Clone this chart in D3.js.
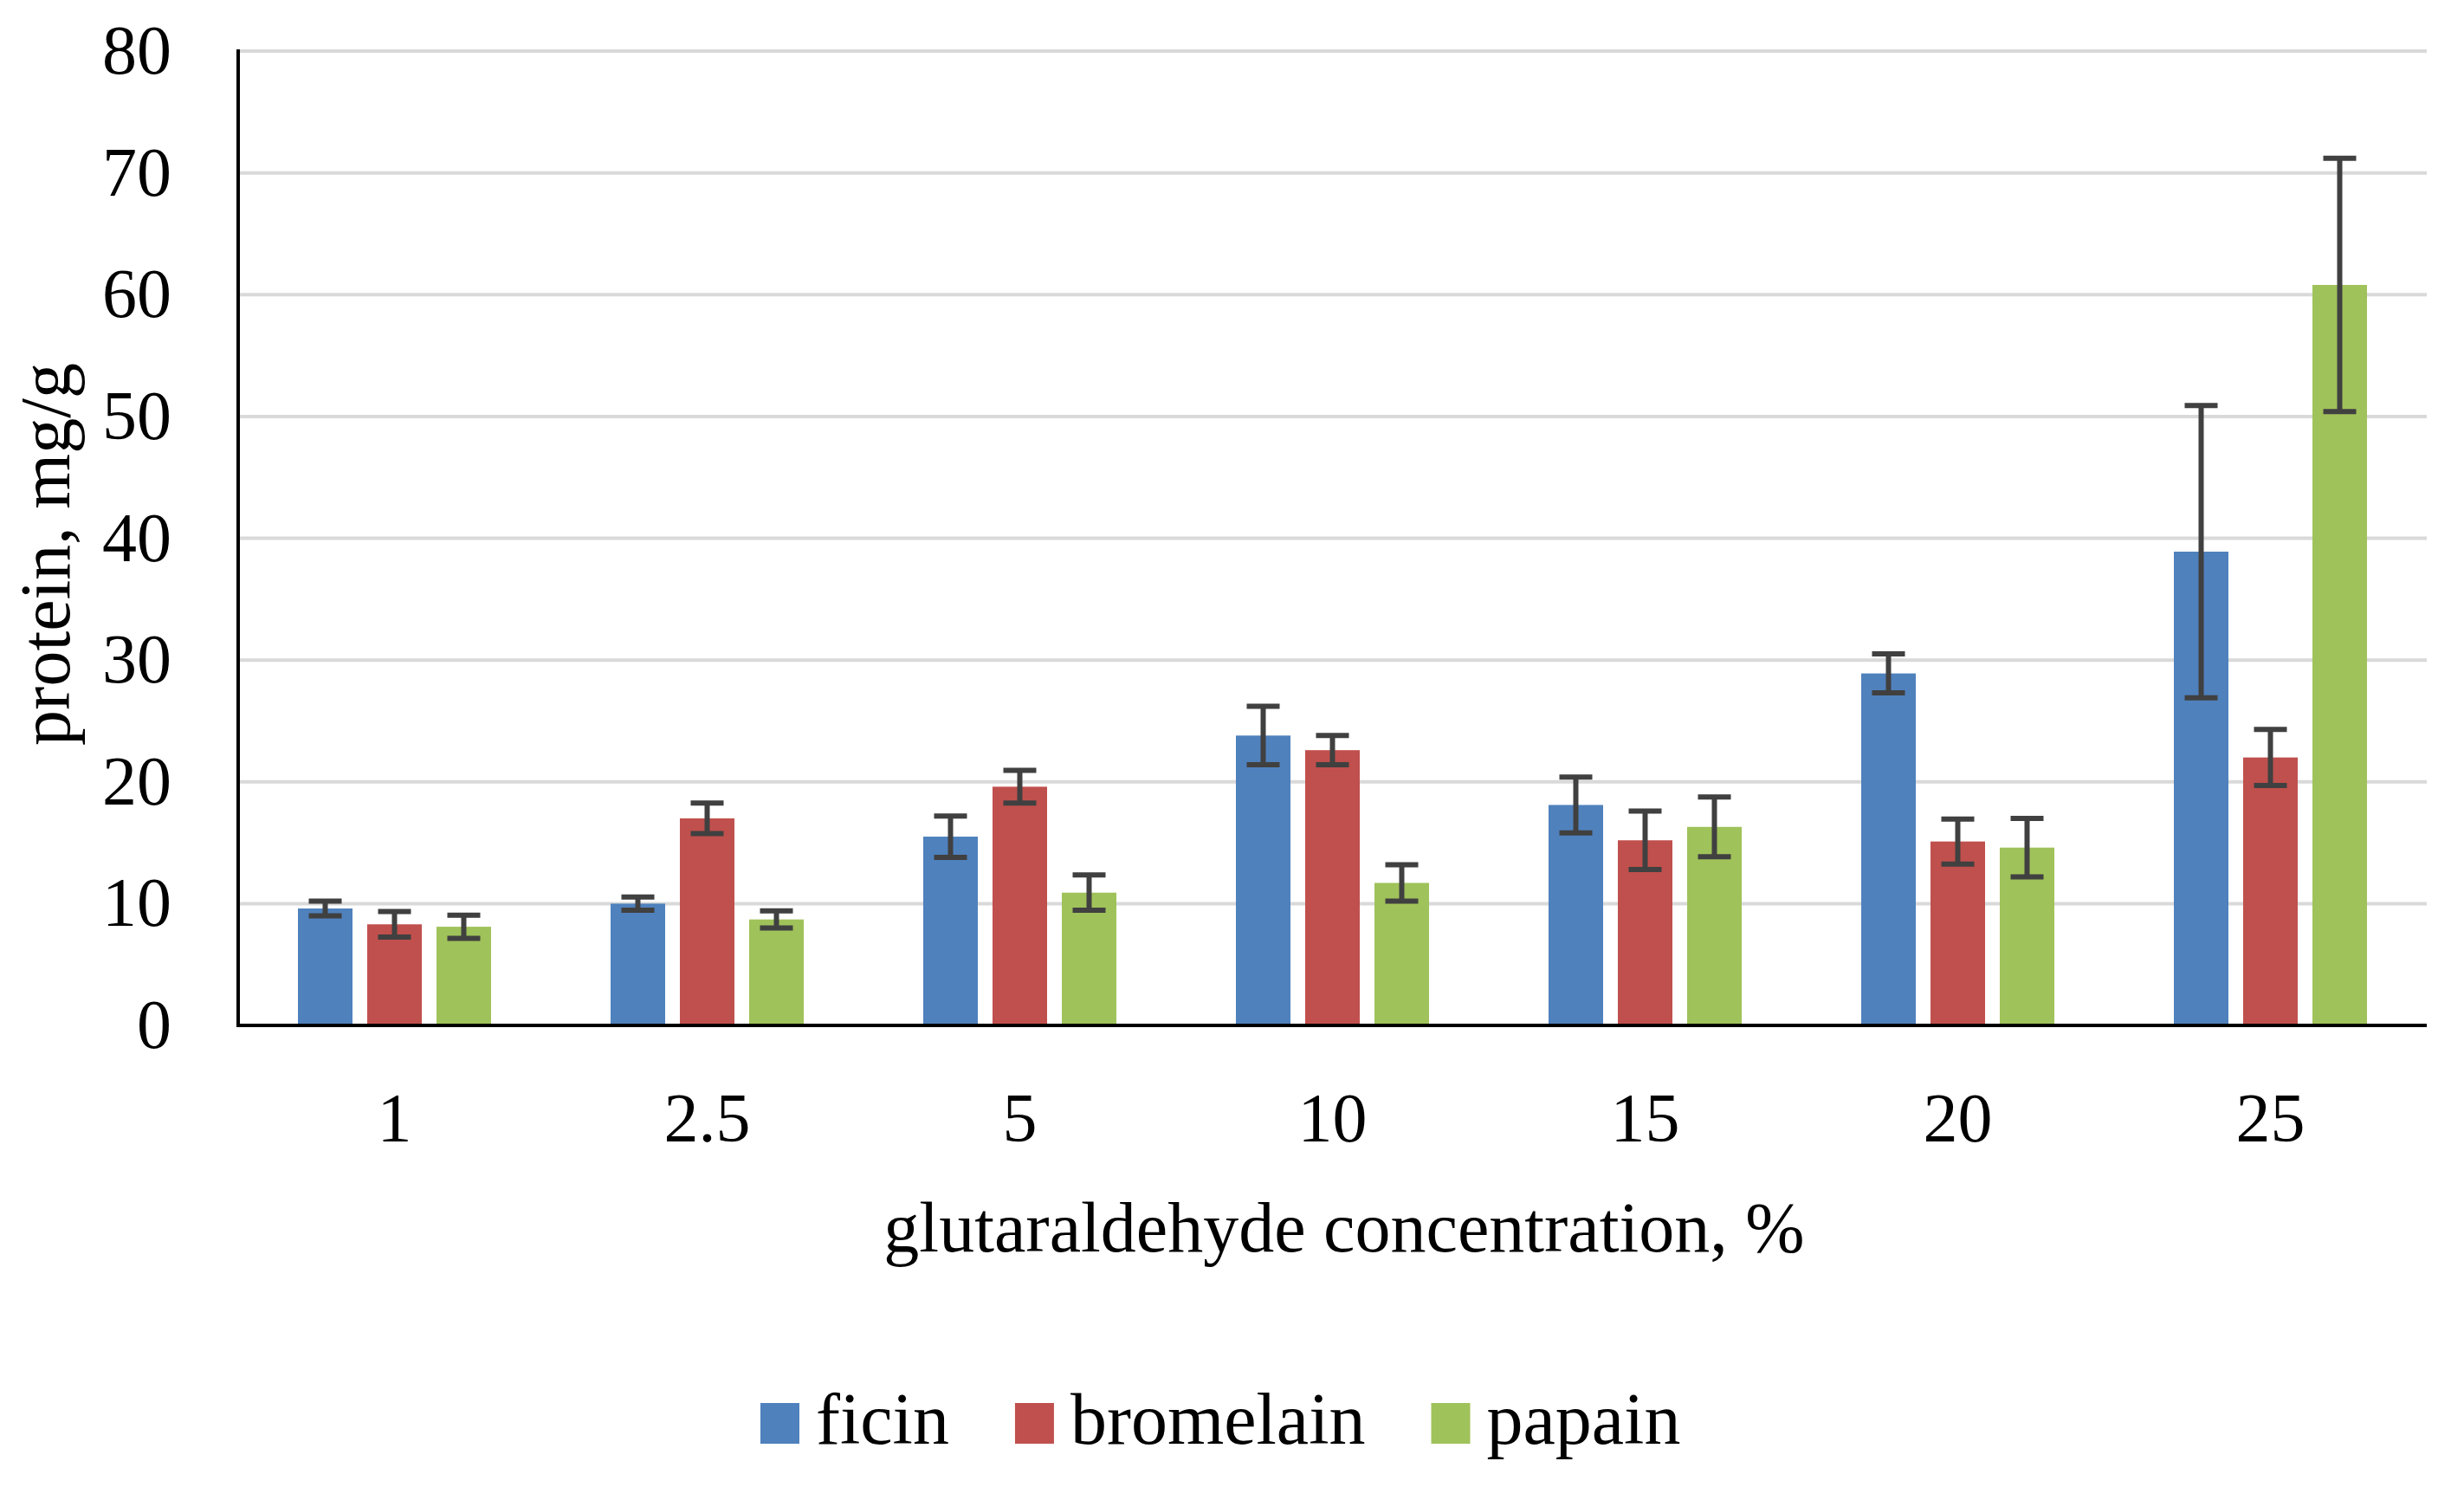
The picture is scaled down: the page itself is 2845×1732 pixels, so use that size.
<!DOCTYPE html>
<html>
<head>
<meta charset="utf-8">
<script src="https://cdn.jsdelivr.net/npm/d3@7"></script>
<style>
  html, body { margin: 0; padding: 0; background: #fff; }
  text { font-family: "Liberation Serif", "Times New Roman", serif; fill: #000; }
</style>
</head>
<body>
<div id="chart"></div>
<script>
// glutaraldehyde concentration categories
const categories = ["1", "2.5", "5", "10", "15", "20", "25"];
const seriesNames = ["ficin", "bromelain", "papain"];
const seriesColors = ["#4F81BD", "#C0504D", "#A0C25A"];

// protein, mg/g
const ficin = [9.6, 10.0, 15.5, 23.8, 18.1, 28.9, 38.9];
const bromelain = [8.3, 17.0, 19.6, 22.6, 15.2, 15.1, 22.0];
const papain = [8.1, 8.7, 10.9, 11.7, 16.3, 14.6, 60.8];

// error bar half widths
const ficinErr = [0.6, 0.55, 1.7, 2.4, 2.3, 1.6, 12.0];
const bromelainErr = [1.05, 1.25, 1.35, 1.2, 2.4, 1.85, 2.3];
const papainErr = [0.95, 0.7, 1.45, 1.5, 2.45, 2.4, 10.4];

const yTicks = [0, 10, 20, 30, 40, 50, 60, 70, 80];

function drawChart() {
    const width = 2845, height = 1732;
    const fontSize = 80;

    const svg = d3.select("#chart")
        .append("svg")
        .attr("width", width)
        .attr("height", height);

    const left = 275, right = 2802, top = 59, bottom = 1184;

    const x = d3.scaleBand()
        .domain(categories)
        .range([left, right]);

    // bars inside a group: step 80, width 63
    const xSub = d3.scaleBand()
        .domain(seriesNames)
        .range([-120, 120])
        .paddingInner(0.2125)
        .paddingOuter(0.10625);

    const y = d3.scaleLinear()
        .domain([0, 80])
        .range([bottom, top]);

    // gridlines
    svg.append("g")
        .selectAll("line")
        .data(yTicks.filter(d => d > 0))
        .enter()
        .append("line")
        .attr("x1", left)
        .attr("x2", right)
        .attr("y1", d => y(d))
        .attr("y2", d => y(d))
        .attr("stroke", "#D9D9D9")
        .attr("stroke-width", 4);

    // rows of bar data
    const values = [ficin, bromelain, papain];
    const errs = [ficinErr, bromelainErr, papainErr];
    const rows = [];
    categories.forEach((c, i) => {
        seriesNames.forEach((s, j) => {
            rows.push({ cat: c, name: s, color: seriesColors[j], v: values[j][i], e: errs[j][i] });
        });
    });

    svg.append("g")
        .selectAll("rect")
        .data(rows)
        .enter()
        .append("rect")
        .attr("x", d => x(d.cat) + x.bandwidth() / 2 + xSub(d.name))
        .attr("width", xSub.bandwidth())
        .attr("y", d => y(d.v))
        .attr("height", d => y(0) - y(d.v))
        .attr("fill", d => d.color);

    // error bars
    const eb = svg.append("g")
        .attr("stroke", "#404040")
        .attr("stroke-width", 6);

    const cx = d => x(d.cat) + x.bandwidth() / 2 + xSub(d.name) + xSub.bandwidth() / 2;
    const capHalf = 19;

    eb.selectAll("line.v")
        .data(rows)
        .enter()
        .append("line")
        .attr("class", "v")
        .attr("x1", cx).attr("x2", cx)
        .attr("y1", d => y(d.v - d.e))
        .attr("y2", d => y(d.v + d.e));

    eb.selectAll("line.top")
        .data(rows)
        .enter()
        .append("line")
        .attr("class", "top")
        .attr("x1", d => cx(d) - capHalf).attr("x2", d => cx(d) + capHalf)
        .attr("y1", d => y(d.v + d.e))
        .attr("y2", d => y(d.v + d.e));

    eb.selectAll("line.bot")
        .data(rows)
        .enter()
        .append("line")
        .attr("class", "bot")
        .attr("x1", d => cx(d) - capHalf).attr("x2", d => cx(d) + capHalf)
        .attr("y1", d => y(d.v - d.e))
        .attr("y2", d => y(d.v - d.e));

    // axes
    const yAxis = svg.append("g")
        .attr("transform", `translate(${left},0)`)
        .call(d3.axisLeft(y).tickValues(yTicks).tickSize(0).tickPadding(77));
    yAxis.select(".domain").remove();
    yAxis.selectAll("text")
        .style("font-size", fontSize + "px")
        .style("font-family", "Liberation Serif, serif");

    const xAxis = svg.append("g")
        .attr("transform", `translate(0,${bottom})`)
        .call(d3.axisBottom(x).tickSize(0).tickPadding(77));
    xAxis.select(".domain").remove();
    xAxis.selectAll("text")
        .style("font-size", fontSize + "px")
        .style("font-family", "Liberation Serif, serif");

    svg.append("line")
        .attr("x1", left).attr("x2", left)
        .attr("y1", top - 2).attr("y2", bottom + 2)
        .attr("stroke", "#000")
        .attr("stroke-width", 4);

    svg.append("line")
        .attr("x1", left - 2).attr("x2", right)
        .attr("y1", bottom).attr("y2", bottom)
        .attr("stroke", "#000")
        .attr("stroke-width", 4);

    // axis titles
    svg.append("text")
        .attr("text-anchor", "middle")
        .attr("x", 1552)
        .attr("y", 1445)
        .style("font-size", "82px")
        .text("glutaraldehyde concentration, %");

    svg.append("text")
        .attr("text-anchor", "middle")
        .attr("transform", `translate(80,640) rotate(-90)`)
        .style("font-size", "82px")
        .text("protein, mg/g");

    // legend
    const legend = svg.append("g");
    let lx = 878;
    seriesNames.forEach((name, i) => {
        legend.append("rect")
            .attr("x", lx)
            .attr("y", 1620)
            .attr("width", 45)
            .attr("height", 47)
            .attr("fill", seriesColors[i]);
        const t = legend.append("text")
            .attr("x", lx + 64)
            .attr("y", 1667)
            .style("font-size", "84px")
            .text(name);
        lx = lx + 64 + t.node().getComputedTextLength() + 76;
    });
}

drawChart();
</script>
</body>
</html>
